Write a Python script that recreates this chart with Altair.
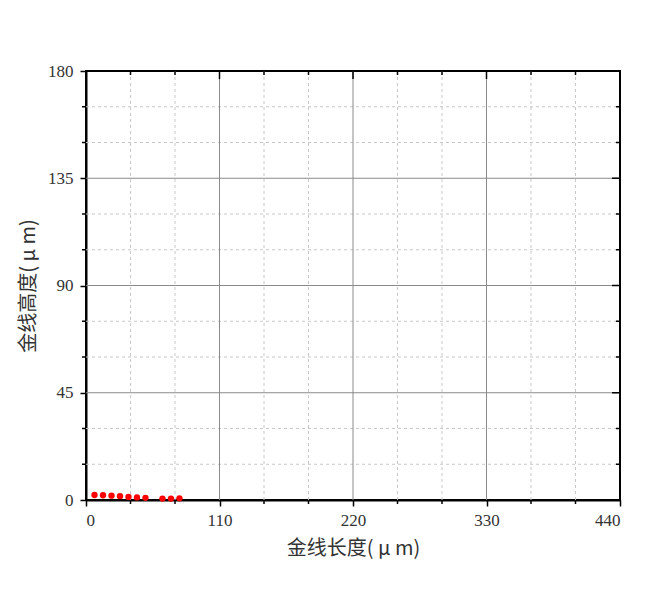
import altair as alt
import pandas as pd

# data
length_um = [7, 14, 21, 28, 35, 42, 49, 63, 70, 77]
height_um = [2.1, 2.0, 1.8, 1.6, 1.3, 1.1, 0.9, 0.6, 0.6, 0.7]

x_major = [0, 110, 220, 330, 440]
y_major = [0, 45, 90, 135, 180]

x_minor = []
for a, b in zip(x_major[:-1], x_major[1:]):
    step = (b - a) / 3
    x_minor += [a + step, a + 2 * step]
y_minor = []
for a, b in zip(y_major[:-1], y_major[1:]):
    step = (b - a) / 3
    y_minor += [a + step, a + 2 * step]

W, H = 534, 429

pts = pd.DataFrame({"x": length_um, "y": height_um})
vmaj = pd.DataFrame({"x": x_major[1:-1]})
vmin = pd.DataFrame({"x": x_minor})
hmaj = pd.DataFrame({"y": y_major[1:-1]})
hmin = pd.DataFrame({"y": y_minor})
vall = pd.DataFrame({"x": x_major})
hall = pd.DataFrame({"y": y_major})

xscale = alt.Scale(domain=[0, 440], nice=False, zero=False)
yscale = alt.Scale(domain=[0, 180], nice=False, zero=False)

xaxis = alt.Axis(values=x_major, title="金线长度( μ m)", grid=False, tickSize=6,
                 labelPadding=6, titlePadding=10)
yaxis = alt.Axis(values=y_major, title="金线高度( μ m)", grid=False, tickSize=6,
                 labelPadding=7, titlePadding=9)

def X():
    return alt.X("x:Q", scale=xscale, axis=xaxis)

def Y():
    return alt.Y("y:Q", scale=yscale, axis=yaxis)

minor_grid_v = alt.Chart(vmin).mark_rule(color="#c8c8c8", strokeDash=[3, 3], strokeWidth=1).encode(
    x=X(), y=alt.value(0), y2=alt.value(H))
minor_grid_h = alt.Chart(hmin).mark_rule(color="#c8c8c8", strokeDash=[3, 3], strokeWidth=1).encode(
    y=Y(), x=alt.value(0), x2=alt.value(W))
major_grid_v = alt.Chart(vmaj).mark_rule(color="#8a8a8a", strokeWidth=1).encode(
    x=X(), y=alt.value(0), y2=alt.value(H))
major_grid_h = alt.Chart(hmaj).mark_rule(color="#8a8a8a", strokeWidth=1).encode(
    y=Y(), x=alt.value(0), x2=alt.value(W))

# minor outward ticks bottom / left
tick_b = alt.Chart(vmin).mark_rule(color="black", strokeWidth=1.5).encode(
    x=X(), y=alt.value(H), y2=alt.value(H + 4))
tick_l = alt.Chart(hmin).mark_rule(color="black", strokeWidth=1.5).encode(
    y=Y(), x=alt.value(-4), x2=alt.value(0))
# inward ticks top / right
tick_t_min = alt.Chart(vmin).mark_rule(color="black", strokeWidth=1.5).encode(
    x=X(), y=alt.value(0), y2=alt.value(4))
tick_t_maj = alt.Chart(vall).mark_rule(color="black", strokeWidth=1.5).encode(
    x=X(), y=alt.value(0), y2=alt.value(8))
tick_r_min = alt.Chart(hmin).mark_rule(color="black", strokeWidth=1.5).encode(
    y=Y(), x=alt.value(W - 4), x2=alt.value(W))
tick_r_maj = alt.Chart(hall).mark_rule(color="black", strokeWidth=1.5).encode(
    y=Y(), x=alt.value(W - 8), x2=alt.value(W))

points = alt.Chart(pts).mark_circle(color="#ff0000", size=40, opacity=1).encode(
    x=X(), y=Y())

chart = alt.layer(
    minor_grid_v, minor_grid_h, major_grid_v, major_grid_h,
    tick_b, tick_l, tick_t_min, tick_t_maj, tick_r_min, tick_r_maj,
    points,
).properties(
    width=W, height=H,
    autosize=alt.AutoSizeParams(type="none"),
    padding={"left": 78, "top": 63, "right": 10, "bottom": 60},
).configure_view(
    stroke="black", strokeWidth=2
).configure_axis(
    domainColor="black", domainWidth=2, tickColor="black", tickWidth=1.5,
    labelFont="Liberation Serif", labelFontSize=17, labelColor="#333333",
    titleFont="Noto Sans CJK SC", titleFontSize=20, titleFontWeight="normal",
    titleColor="#333333",
)

chart.save("out.html", embed_options={"renderer": "svg", "actions": False})
